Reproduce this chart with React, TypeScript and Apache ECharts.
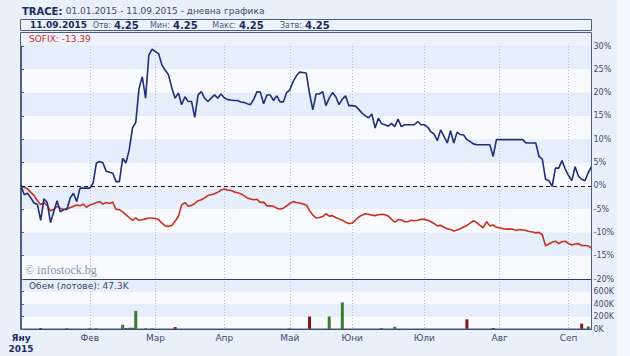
import { useEffect, useRef } from 'react';
import * as echarts from 'echarts';

// trading-day index of the first session of each month (Jan 2015 .. Sep 2015)
const MONTH_START_DAY = [0, 21, 41, 62, 82, 101, 123, 146, 167];
const MONTH_LABELS = ['Яну', 'Фев', 'Мар', 'Апр', 'Май', 'Юни', 'Юли', 'Авг', 'Сеп'];
const YEAR_LABEL = '2015';
const LAST_DAY = 174;

// TRACE, % change from 01.01.2015, one value per trading day
const TRACE_PCT = [
  0, -1.9, -1.6, -2.6, -3.7, -4.0, -7.4, -2.8, -3.6, -7.9,
  -5.5, -3.2, -5.6, -5.1, -5.1, -2.6, -1.6, -3.4, -0.5, -0.5,
  -0.5, -0.5, 0.6, 4.9, 5.2, 4.9, 3.1, 2.9, 2.7, 0.9,
  0.9, 5.9, 4.9, 7.7, 12.4, 13.6, 20.9, 23.4, 18.8, 28.1,
  29.3, 28.8, 28.3, 25.9, 24.8, 23.8, 21.0, 18.8, 19.9, 17.4,
  19.1, 18.1, 18.1, 14.7, 19.5, 20.2, 18.8, 18.1, 18.8, 19.5,
  18.8, 19.7, 18.9, 18.5, 18.4, 18.3, 18.3, 18.0, 17.9, 17.6,
  17.4, 18.6, 20.2, 20.1, 17.6, 19.5, 19.5, 18.3, 19.3, 18.0,
  18.0, 20.0, 20.6, 22.4, 23.6, 24.4, 24.3, 24.2, 19.8, 16.3,
  19.7, 19.7, 20.2, 17.2, 18.8, 20.0, 19.1, 17.4, 18.6, 19.3,
  17.2, 17.2, 17.1, 16.4, 15.6, 15.0, 14.6, 15.4, 12.4, 14.5,
  13.3, 13.1, 12.8, 13.4, 12.7, 14.3, 12.7, 13.1, 13.1, 13.1,
  13.1, 13.8, 13.1, 13.1, 12.6, 11.6, 11.1, 9.7, 12.0, 10.6,
  9.2, 11.8, 9.2, 11.5, 11.0, 10.9, 9.9, 9.5, 9.0, 8.8,
  8.8, 8.8, 8.8, 8.8, 6.3, 9.9, 9.9, 9.9, 9.9, 9.9,
  9.9, 9.9, 9.9, 9.9, 9.2, 9.2, 9.2, 9.2, 6.3, 5.7,
  1.4, 1.1, -0.1, 3.8, 3.8, 5.4, 3.6, 2.2, 1.1, 4.1,
  2.1, 1.4, 1.1, 2.8, 4.1,
];

// SOFIX, % change from 01.01.2015
const SOFIX_PCT = [
  0, -0.3, -0.7, -1.4, -2.1, -3.2, -4.0, -3.6, -4.2, -5.4,
  -5.0, -4.4, -4.8, -5.1, -4.9, -4.7, -4.4, -4.1, -4.3, -3.9,
  -4.6, -4.1, -3.9, -3.6, -3.4, -3.9, -3.6, -3.8, -3.5, -5.1,
  -5.1, -5.6, -6.2, -6.8, -7.4, -6.9, -7.4, -7.3, -7.1, -6.9,
  -6.9, -7.0, -7.3, -8.0, -8.6, -8.7, -8.5, -7.6, -6.6, -4.1,
  -3.6, -4.4, -4.2, -3.8, -3.2, -3.0, -2.6, -2.1, -1.9, -1.7,
  -1.4, -0.9, -0.7, -0.9, -1.0, -1.3, -1.5, -1.7, -2.1, -2.6,
  -2.85, -3.0, -2.9, -3.6, -3.5, -4.3, -4.3, -4.4, -4.8, -5.0,
  -4.8, -4.3, -3.8, -3.4, -3.6, -3.7, -3.9, -4.1, -5.3, -6.3,
  -6.9, -6.8, -6.6, -6.0, -6.5, -6.4, -6.8, -7.1, -7.4, -7.8,
  -8.1, -8.0, -7.4, -6.7, -6.3, -6.0, -6.1, -6.3, -6.4, -6.2,
  -6.1, -6.2, -6.5, -7.2, -7.8, -7.3, -7.3, -7.7, -7.7, -7.4,
  -7.5, -7.4, -7.2, -7.2, -7.4, -7.7, -8.1, -8.6, -8.5, -8.9,
  -9.2, -9.4, -9.7, -9.5, -9.2, -8.85, -8.5, -8.0, -7.5, -7.9,
  -8.5, -9.0, -7.7, -8.6, -8.4, -8.9, -9.0, -9.2, -9.3, -9.3,
  -9.3, -9.6, -9.4, -9.5, -9.6, -9.8, -9.9, -10.1, -10.0, -10.5,
  -12.9, -12.5, -12.1, -11.9, -12.4, -12.0, -11.9, -12.4, -12.7, -12.5,
  -12.4, -12.8, -12.8, -12.9, -13.39,
];

// Volume (lots) on the days that traded
const VOLUME_DAY = [6, 14, 21, 23, 31, 32, 33, 34, 35, 38, 40, 47, 82, 88, 94, 98, 110, 114, 136, 144, 171, 173];
const VOLUME_LOTS = [15000, 10000, 10000, 12000, 70000, 15000, 20000, 20000, 290000, 10000, 10000, 30000, 10000, 200000, 200000, 425000, 12000, 35000, 155000, 15000, 85000, 40000];
const VOLUME_UP = [false, false, true, true, true, false, true, true, true, false, true, false, true, false, true, true, false, true, false, false, false, true];

const FONT = "'DejaVu Sans', Verdana, sans-serif";
const AXIS_TEXT = '#3d4d6d';
const FRAME = '#4d5f80';
const BAND_BLUE = '#E6EEFB';
const BAND_WHITE = '#F8FAFE';

export default function App() {
  const ref = useRef<HTMLDivElement>(null);

  useEffect(() => {
    if (!ref.current) return;
    const chart = echarts.init(ref.current, undefined, { renderer: 'svg' });

    const monthFormatter = (v: number) => {
      const i = MONTH_START_DAY.indexOf(v);
      if (i < 0) return '';
      if (i === 0) return `{b|${MONTH_LABELS[0]}}\n{b|${YEAR_LABEL}}`;
      return MONTH_LABELS[i];
    };

    const xBase = (grid: number) => ({
      type: 'value',
      gridIndex: grid,
      min: 0,
      max: LAST_DAY,
      axisLine: { show: true, onZero: false, lineStyle: { color: '#2f3f5f', width: 1 } },
      axisTick: { show: false, customValues: MONTH_START_DAY },
      splitLine: { show: true, lineStyle: { color: '#b4c0d6', type: [1, 2], width: 1 } },
    });

    const num = (x: number, text: string, size = 10) => ({
      type: 'text', x, y: 25, z: 20,
      style: { text, fill: '#1b2a5a', font: `bold ${size}px ${FONT}`, verticalAlign: 'middle' },
    });
    const lab = (xRight: number, text: string) => ({
      type: 'text', x: xRight, y: 25, z: 20,
      style: { text, fill: '#4a5a7a', font: `8px ${FONT}`, verticalAlign: 'middle', align: 'right' },
    });

    chart.setOption({
      animation: false,
      backgroundColor: '#EAF0FA',
      graphic: [
        { type: 'rect', z: -10, shape: { x: 617, y: 0, width: 13, height: 356 }, style: { fill: '#F4F7FC' } },
        {
          type: 'text', x: 22, y: 11, z: 20,
          style: { text: '{t|TRACE:} {n|01.01.2015 - 11.09.2015 - дневна графика}', verticalAlign: 'middle',
            rich: {
              t: { font: `bold 10px ${FONT}`, fill: '#1b2a5a' },
              n: { font: `9px ${FONT}`, fill: '#3b4b6b' },
            } },
        },
        { type: 'rect', z: 10, shape: { x: 20.5, y: 19.5, width: 571, height: 11 }, style: { fill: '#EDF2FB', stroke: FRAME, lineWidth: 1 } },
        num(30, '11.09.2015', 9),
        lab(111, 'Отв:'),
        num(114, '4.25'),
        lab(170, 'Мин:'),
        num(173, '4.25'),
        lab(236, 'Макс:'),
        num(239, '4.25'),
        lab(302, 'Затв:'),
        num(305, '4.25'),
        { type: 'rect', z: -5, shape: { x: 21, y: 33, width: 570.5, height: 13 }, style: { fill: '#ECF1FB' } },
        { type: 'rect', z: 30, shape: { x: 20.5, y: 32.5, width: 571, height: 296.5 }, style: { fill: 'none', stroke: FRAME, lineWidth: 1 } },
        { type: 'text', x: 29, y: 38.5, z: 20, style: { text: 'SOFIX: -13.39', fill: '#cc3322', font: `9px ${FONT}`, verticalAlign: 'middle' } },
        { type: 'text', x: 29, y: 285.5, z: 20, style: { text: 'Обем (лотове): 47.3K', fill: '#3c4a66', font: `9px ${FONT}`, verticalAlign: 'middle' } },
        { type: 'text', x: 25, y: 270, z: 20, style: { text: '© infostock.bg', fill: '#8796b6', font: `12px 'Liberation Serif', serif`, verticalAlign: 'middle' } },
      ],
      grid: [
        { left: 21, top: 46, width: 570.5, height: 233, containLabel: false },
        { left: 21, top: 279, width: 570.5, height: 50, containLabel: false },
      ],
      xAxis: [
        { ...xBase(0), axisLabel: { show: false } },
        {
          ...xBase(1),
          axisLabel: {
            show: true,
            customValues: MONTH_START_DAY,
            formatter: monthFormatter,
            margin: 3,
            color: AXIS_TEXT,
            fontSize: 9,
            fontFamily: FONT,
            lineHeight: 11,
            rich: { b: { fontWeight: 'bold', color: '#1c2b66', fontSize: 9, fontFamily: FONT, lineHeight: 11 } },
          },
        },
      ],
      yAxis: [
        {
          type: 'value', gridIndex: 0, position: 'right', min: -20, max: 30, interval: 5,
          axisLine: { show: true, lineStyle: { color: FRAME } },
          axisTick: { show: true, length: 3, lineStyle: { color: FRAME } },
          axisLabel: { formatter: '{value}%', margin: 2, color: AXIS_TEXT, fontSize: 8, fontFamily: FONT },
          splitLine: { show: false },
          splitArea: { show: true, areaStyle: { color: [BAND_WHITE, BAND_BLUE] } },
        },
        {
          type: 'value', gridIndex: 1, position: 'right', min: 0, max: 800000, interval: 200000,
          axisLine: { show: true, lineStyle: { color: FRAME } },
          axisTick: { show: true, length: 3, lineStyle: { color: FRAME } },
          axisLabel: {
            formatter: (v: number) => (v <= 600000 ? `${v / 1000}K` : ''),
            margin: 2, color: AXIS_TEXT, fontSize: 8, fontFamily: FONT,
          },
          splitLine: { show: false },
          splitArea: { show: true, areaStyle: { color: [BAND_WHITE, BAND_BLUE] } },
        },
      ],
      series: [
        {
          name: 'SOFIX', type: 'line', xAxisIndex: 0, yAxisIndex: 0,
          data: SOFIX_PCT.map((v, i) => [i, v]),
          showSymbol: false, symbol: 'none',
          lineStyle: { color: '#c8321a', width: 1.6 },
          z: 3,
        },
        {
          name: 'TRACE', type: 'line', xAxisIndex: 0, yAxisIndex: 0,
          data: TRACE_PCT.map((v, i) => [i, v]),
          showSymbol: false, symbol: 'none',
          lineStyle: { color: '#1f2f7a', width: 1.6 },
          z: 4,
          markLine: {
            silent: true, symbol: ['none', 'none'], label: { show: false },
            lineStyle: { color: '#1a1a2a', type: [4, 3], width: 1 },
            data: [{ yAxis: 0 }],
          },
        },
        {
          name: 'Обем', type: 'bar', xAxisIndex: 1, yAxisIndex: 1, barWidth: 3,
          data: VOLUME_DAY.map((d, i) => ({
            value: [d, VOLUME_LOTS[i]],
            itemStyle: { color: VOLUME_UP[i] ? '#3b7a2c' : '#8a1212' },
          })),
        },
      ],
    });

    return () => chart.dispose();
  }, []);

  return <div ref={ref} style={{ position: 'absolute', left: 0, top: 0, width: 630, height: 356 }} />;
}
